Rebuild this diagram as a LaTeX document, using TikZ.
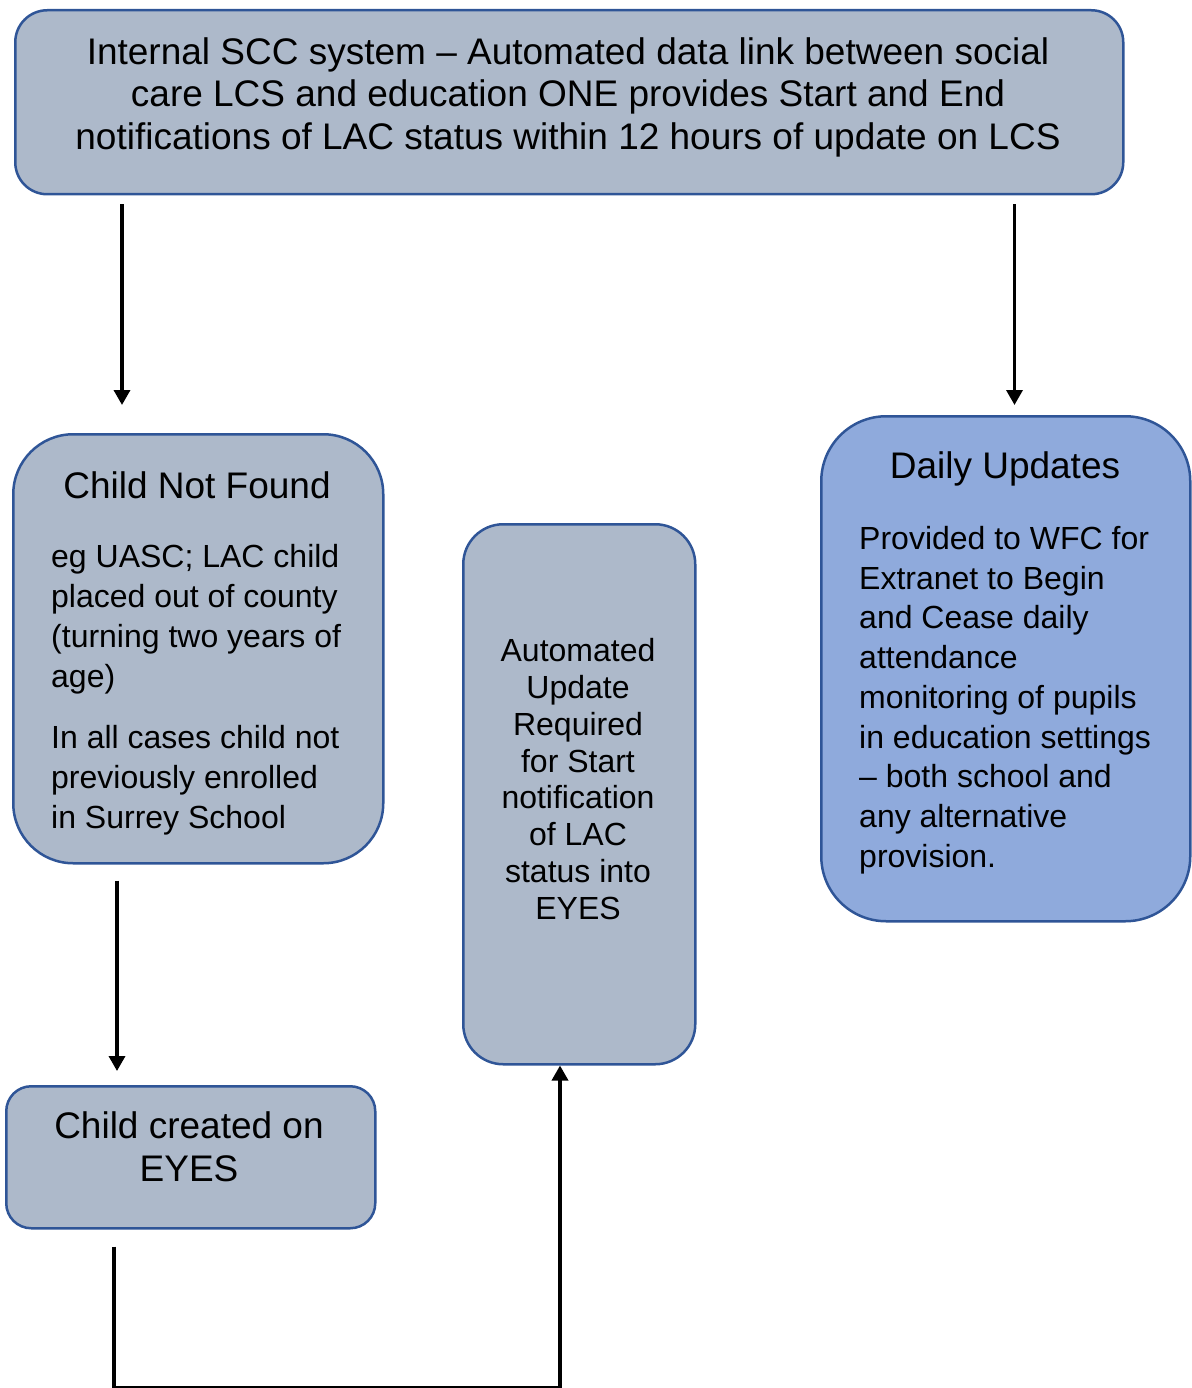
\documentclass[tikz,border=0pt]{standalone}
\usepackage{fontspec}
\setmainfont{Liberation Sans}
\usetikzlibrary{arrows.meta}
\definecolor{boxgray}{HTML}{ADB9CA}
\definecolor{boxblue}{HTML}{8FAADC}
\definecolor{edgeblue}{HTML}{2F5597}
\tikzset{
  box/.style={draw=edgeblue, line width=2.5pt, fill=boxgray, inner sep=0pt, anchor=north west},
  bigtxt/.style={font=\fontsize{37}{42.5}\selectfont, inner sep=0pt, align=center},
  smalltxt/.style={font=\fontsize{32}{40}\selectfont, inner sep=0pt, align=left},
  arr/.style={line width=3.4pt, -{Triangle[width=16pt,length=15pt]}}
}
\begin{document}
\begin{tikzpicture}[x=1pt,y=-1pt]
\useasboundingbox (0,0) rectangle (1191,1388);
% boxes
\node[box, minimum width=1108pt, minimum height=184pt, rounded corners=32pt] (top) at (14,9) {};
\node[box, minimum width=370pt, minimum height=429pt, rounded corners=60pt] (cnf) at (12,433) {};
\node[box, minimum width=232pt, minimum height=540pt, rounded corners=40pt] (mid) at (462,523) {};
\node[box, fill=boxblue, minimum width=369pt, minimum height=505pt, rounded corners=65pt] (daily) at (820,415) {};
\node[box, minimum width=369pt, minimum height=142pt, rounded corners=25pt] (cc) at (5,1085) {};
% texts
\node[bigtxt] (toptxt) at (568,97) {Internal SCC system -- Automated data link between social\\care LCS and education ONE provides Start and End\\notifications of LAC status within 12 hours of update on LCS};
\node[bigtxt] (cnfhead) at (197,485) {Child Not Found};
\node[smalltxt, anchor=west] (cnfbody) at (51,690) {eg UASC; LAC child\\placed out of county\\(turning two years of\\age)\\[21pt]In all cases child not\\previously enrolled\\in Surrey School};
\node[bigtxt, font=\fontsize{32}{36.75}\selectfont] (midtxt) at (578,779) {Automated\\Update\\Required\\for Start\\notification\\of LAC\\status into\\EYES};
\node[bigtxt] (dailyhead) at (1005,469) {Daily Updates};
\node[smalltxt, font=\fontsize{32}{39.75}\selectfont, anchor=west] (dailybody) at (859,700) {Provided to WFC for\\Extranet to Begin\\and Cease daily\\attendance\\monitoring of pupils\\in education settings\\-- both school and\\any alternative\\provision.};
\node[bigtxt, font=\fontsize{37}{43}\selectfont] (cctxt) at (189,1147) {Child created on\\EYES};
% connectors
\draw[arr, shorten <=9pt, shorten >=28pt] ([xshift=108pt]top.south west) -- ([xshift=108pt]top.south west |- cnf.north);
\draw[arr, shorten <=9pt, shorten >=10pt] ([xshift=-110pt]top.south east) -- ([xshift=-110pt]top.south east |- daily.north);
\draw[arr, shorten <=16pt, shorten >=14pt] ([xshift=105pt]cnf.south west) -- ([xshift=105pt]cnf.south west |- cc.north);
\draw[arr] ([xshift=109pt,yshift=-17pt]cc.south west) -- ++(0,141) -| ([xshift=98pt]mid.south west);
\end{tikzpicture}
\end{document}
